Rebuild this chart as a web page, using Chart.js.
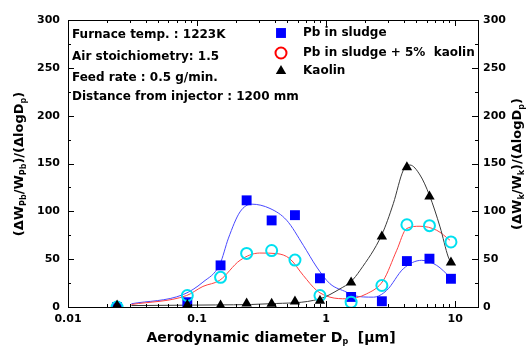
<!DOCTYPE html>
<html>
<head>
<meta charset="utf-8">
<script src="https://cdn.jsdelivr.net/npm/chart.js@4"></script>
<style>
  html, body { margin: 0; padding: 0; background: #fff; }
  #wrap { width: 529px; height: 349px; }
</style>
</head>
<body>
<div id="wrap"><canvas id="chart" width="529" height="349"></canvas></div>
<script>
// measured points (aerodynamic diameter, um)
const diameters = [0.024, 0.084, 0.152, 0.242, 0.378, 0.573, 0.895, 1.56, 2.70, 4.22, 6.31, 9.26];
const pbSludge = [0, 5, 43.5, 111.5, 90.5, 96, 30, 10.5, 6, 48, 50.5, 29.5];
const pbSludgeKaolin = [0, 12, 31, 56, 59, 49, 12, 5, 22.5, 86, 85, 68];
const kaolin = [1.5, 2, 1.5, 3.7, 3.5, 5.8, 6.5, 25.5, 73.7, 146, 115.5, 46.5];

// fitted curves
const pbFitX = [0.031, 0.078, 0.111, 0.150, 0.175, 0.215, 0.265, 0.367, 0.494, 0.665, 0.844, 1.07, 1.44, 1.62, 2.32, 2.94, 3.96, 5.49, 7.18, 9.10];
const pbFitY = [3.4, 13, 26, 44.6, 72, 99.4, 107.5, 103, 90.7, 64.5, 41.8, 24.3, 15.5, 12, 10.3, 17.3, 40, 48.8, 43.5, 31.3];
const pbKaoFitX = [0.031, 0.083, 0.111, 0.150, 0.215, 0.305, 0.415, 0.521, 0.665, 0.844, 1.07, 1.44, 2.06, 2.77, 3.52, 4.20, 5.33, 7.18, 9.10];
const pbKaoFitY = [2.6, 12, 21.5, 28, 48.8, 56.4, 55.8, 50.6, 33, 17.3, 10.3, 8.6, 13.8, 27.8, 59.3, 82, 84.4, 80.2, 69.8];
const kaoFitX = [0.031, 0.1, 0.367, 0.895, 1.28, 1.56, 1.83, 2.7, 3.31, 3.96, 4.46, 5.33, 6.30, 7.62, 8.83, 9.3];
const kaoFitY = [1.5, 2, 3.4, 8.6, 19, 26.7, 38.3, 75.7, 108, 143, 148.4, 138, 117, 83.7, 52.2, 46];

const xDecades = [0.01, 0.1, 1, 10];
const xLabels = ["0.01", "0.1", "1", "10"];
const yTicks = [0, 50, 100, 150, 200, 250, 300];

const legendNames = ["Pb in sludge", "Pb in sludge + 5%  kaolin", "Kaolin"];
const notes = [
    "Furnace temp. : 1223K",
    "Air stoichiometry: 1.5",
    "Feed rate : 0.5 g/min.",
    "Distance from injector : 1200 mm"
];

const FONT = "'DejaVu Sans', sans-serif";

const pairs = (xs, ys) => xs.map((x, i) => ({ x: x, y: ys[i] }));

// minor ticks for the log axis
const xTickValues = [];
xDecades.forEach((d) => {
    for (let m = 1; m <= 9; m++) {
        if (d * m <= 15) xTickValues.push(+(d * m).toPrecision(3));
    }
});

const legendStyles = [
    { fill: "#0000ff", stroke: "#0000ff", width: 0 },
    { fill: "rgba(255,255,255,0)", stroke: "#ff0000", width: 2 },
    { fill: "#000", stroke: "#000", width: 0 }
];

function drawParts(ctx, parts, cx, cy, rot, size) {
    const big = "bold " + size + "px " + FONT, small = "bold 8px " + FONT;
    let total = 0;
    parts.forEach(([t, sub]) => {
        ctx.font = sub ? small : big;
        total += ctx.measureText(t).width;
    });
    ctx.save();
    ctx.translate(cx, cy);
    ctx.rotate(rot);
    ctx.textAlign = "left";
    ctx.textBaseline = "middle";
    ctx.fillStyle = "#000";
    let x = -total / 2;
    parts.forEach(([t, sub]) => {
        ctx.font = sub ? small : big;
        ctx.fillText(t, x, sub ? 4 : 0);
        x += ctx.measureText(t).width;
    });
    ctx.restore();
}

const framePlugin = {
    id: "frame",
    afterDraw(chart) {
        const ctx = chart.ctx;
        const a = chart.chartArea;
        const sx = chart.scales.x, sy = chart.scales.y;
        ctx.save();
        ctx.strokeStyle = "#000";
        ctx.lineWidth = 1;
        ctx.beginPath();
        ctx.moveTo(a.left, a.top + 0.5);
        ctx.lineTo(a.right, a.top + 0.5);
        // inward ticks
        xTickValues.forEach((v) => {
            const px = Math.round(sx.getPixelForValue(v)) + 0.5;
            const len = xDecades.includes(v) ? 6 : 3;
            ctx.moveTo(px, a.bottom);
            ctx.lineTo(px, a.bottom - len);
            ctx.moveTo(px, a.top);
            ctx.lineTo(px, a.top + len);
        });
        for (let v = 0; v <= 300; v += 25) {
            const py = Math.round(sy.getPixelForValue(v)) + 0.5;
            const len = v % 50 === 0 ? 6 : 3;
            ctx.moveTo(a.left, py);
            ctx.lineTo(a.left + len, py);
            ctx.moveTo(a.right, py);
            ctx.lineTo(a.right - len, py);
        }
        ctx.stroke();

        // notes
        ctx.fillStyle = "#000";
        ctx.font = "bold 12px " + FONT;
        ctx.textBaseline = "middle";
        ctx.textAlign = "left";
        const noteY = [35, 57, 78, 97];
        notes.forEach((t, i) => ctx.fillText(t, 72, noteY[i]));

        // legend
        const legY = [33, 53, 71];
        legendNames.forEach((name, i) => {
            const ds = chart.data.datasets[2 - i];
            const style = legendStyles[i];
            ctx.fillStyle = style.fill;
            ctx.strokeStyle = style.stroke;
            ctx.lineWidth = style.width;
            Chart.helpers.drawPoint(ctx, {
                pointStyle: ds.pointStyle,
                radius: ds.pointRadius,
                rotation: 0,
                borderWidth: style.width
            }, 281, legY[i]);
            ctx.fillStyle = "#000";
            ctx.fillText(name, 303, legY[i]);
        });

        // axis titles with subscripts
        drawParts(ctx, [["Aerodynamic diameter D", 0], ["p", 1], ["  [\u03bcm]", 0]], 271, 338, 0, 14);
        drawParts(ctx, [["(\u0394W", 0], ["Pb", 1], ["/W", 0], ["Pb", 1], [")/(\u0394logD", 0], ["p", 1], [")", 0]], 20, 164, -Math.PI / 2, 13);
        drawParts(ctx, [["(\u0394W", 0], ["k", 1], ["/W", 0], ["k", 1], [")/(\u0394logD", 0], ["p", 1], [")", 0]], 518, 164, -Math.PI / 2, 13);
        ctx.restore();
    }
};

const tickFont = { family: FONT, size: 11, weight: "bold" };

new Chart(document.getElementById("chart"), {
    type: "scatter",
    data: {
        datasets: [
            {
                label: "Kaolin",
                data: pairs(diameters, kaolin),
                pointStyle: "triangle",
                pointRadius: 6,
                backgroundColor: "#000",
                borderColor: "#000",
                borderWidth: 0,
                showLine: false
            },
            {
                label: "Pb in sludge + 5% kaolin",
                data: pairs(diameters, pbSludgeKaolin),
                pointStyle: "circle",
                pointRadius: 5.5,
                backgroundColor: "rgba(255,255,255,0)",
                borderColor: "#00e0f0",
                borderWidth: 2,
                showLine: false
            },
            {
                label: "Pb in sludge",
                data: pairs(diameters, pbSludge),
                pointStyle: "rect",
                pointRadius: 7,
                backgroundColor: "#0000ff",
                borderColor: "#0000ff",
                borderWidth: 0,
                showLine: false
            },
            {
                data: pairs(kaoFitX, kaoFitY),
                showLine: true,
                pointRadius: 0,
                borderColor: "#3a3a3a",
                borderWidth: 1,
                cubicInterpolationMode: "monotone"
            },
            {
                data: pairs(pbKaoFitX, pbKaoFitY),
                showLine: true,
                pointRadius: 0,
                borderColor: "#ff4040",
                borderWidth: 1,
                cubicInterpolationMode: "monotone"
            },
            {
                data: pairs(pbFitX, pbFitY),
                showLine: true,
                pointRadius: 0,
                borderColor: "#4848ff",
                borderWidth: 1,
                cubicInterpolationMode: "monotone"
            }
        ]
    },
    options: {
        responsive: false,
        animation: false,
        layout: { padding: { top: 20, left: 0, right: 0, bottom: 0 } },
        plugins: {
            legend: { display: false },
            tooltip: { enabled: false }
        },
        scales: {
            x: {
                type: "logarithmic",
                position: "bottom",
                min: 0.01,
                max: 15,
                afterBuildTicks: (scale) => {
                    scale.ticks = xTickValues.map((v) => ({ value: v }));
                },
                afterFit: (scale) => { scale.height = 42; },
                ticks: {
                    autoSkip: false,
                    maxRotation: 0,
                    padding: 6,
                    color: "#000",
                    font: tickFont,
                    callback: (v) => {
                        const i = xDecades.indexOf(+(+v).toPrecision(3));
                        return i >= 0 ? xLabels[i] : "";
                    }
                },
                grid: { drawOnChartArea: false, drawTicks: false },
                border: { color: "#000", width: 1 }
            },
            y: {
                position: "left",
                min: 0,
                max: 300,
                afterFit: (scale) => { scale.width = 68; },
                afterBuildTicks: (scale) => {
                    scale.ticks = yTicks.map((v) => ({ value: v }));
                },
                ticks: { padding: 8, color: "#000", font: tickFont },
                grid: { drawOnChartArea: false, drawTicks: false },
                border: { color: "#000", width: 1 }
            },
            y2: {
                position: "right",
                min: 0,
                max: 300,
                afterFit: (scale) => { scale.width = 51; },
                afterBuildTicks: (scale) => {
                    scale.ticks = yTicks.map((v) => ({ value: v }));
                },
                ticks: { padding: 5, color: "#000", font: tickFont },
                grid: { drawOnChartArea: false, drawTicks: false },
                border: { color: "#000", width: 1 }
            }
        }
    },
    plugins: [framePlugin]
});
</script>
</body>
</html>
